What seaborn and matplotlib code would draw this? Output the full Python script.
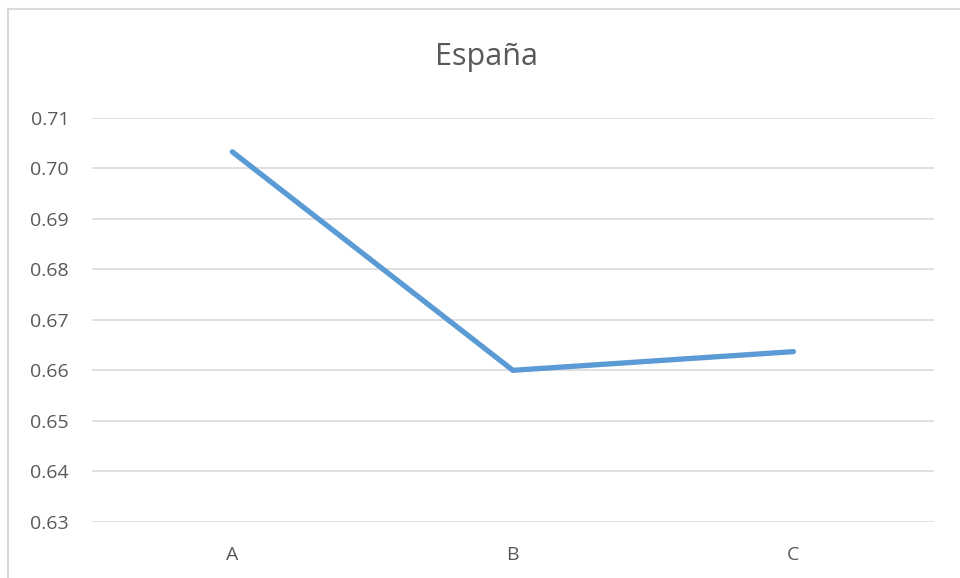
import matplotlib
matplotlib.use("Agg")
import matplotlib.pyplot as plt
import matplotlib.patches as mpatches
import numpy as np
import pandas as pd
import seaborn as sns

# Series data
categories = ["A", "B", "C"]
values = [0.7033, 0.6600, 0.6637]
y_ticks = [0.63, 0.64, 0.65, 0.66, 0.67, 0.68, 0.69, 0.70, 0.71]
title = "España"

sns.set_theme(style="white")
plt.rcParams["font.family"] = ["Open Sans", "DejaVu Sans"]

text_color = "#595959"
grid_color = "#d9d9d9"
line_color = "#5b9bd5"

fig = plt.figure(figsize=(9.6, 5.78), dpi=100)
fig.patch.set_facecolor("white")

# Chart-area border
border = mpatches.Rectangle((8 / 960, -0.05), 1.1, 1 - 9 / 578 + 0.05,
                            transform=fig.transFigure, fill=False,
                            edgecolor=grid_color, linewidth=1.5, zorder=0)
fig.patches.append(border)

ax = fig.add_axes([92 / 960, 1 - 521.7 / 578, (933.7 - 92) / 960, (521.7 - 118) / 578])

df = pd.DataFrame({"cat": categories, "val": values})
x_pos = np.arange(len(categories))
sns.lineplot(x=x_pos, y=df["val"], ax=ax, color=line_color, linewidth=3.8,
             solid_capstyle="round", solid_joinstyle="miter", zorder=3)

ax.set_xlim(-0.5, len(categories) - 0.5)
ax.set_ylim(y_ticks[0], y_ticks[-1])
ax.set_xticks(x_pos)
ax.set_xticklabels(categories)
ax.set_yticks(y_ticks)
ax.set_yticklabels([f"{t:.2f}" for t in y_ticks])

for t in y_ticks:
    ax.axhline(t, color=grid_color, linewidth=1.2, zorder=1)

for s in ax.spines.values():
    s.set_visible(False)

ax.tick_params(axis="both", length=0, colors=text_color, labelsize=14)
ax.tick_params(axis="y", pad=16.5)
ax.tick_params(axis="x", pad=17.5)
ax.set_xlabel("")
ax.set_ylabel("")

fig.text(486.5 / 960, 1 - 57 / 578, title, ha="center", va="center",
         fontsize=22, color=text_color)

fig.savefig("out.png", dpi=100)
